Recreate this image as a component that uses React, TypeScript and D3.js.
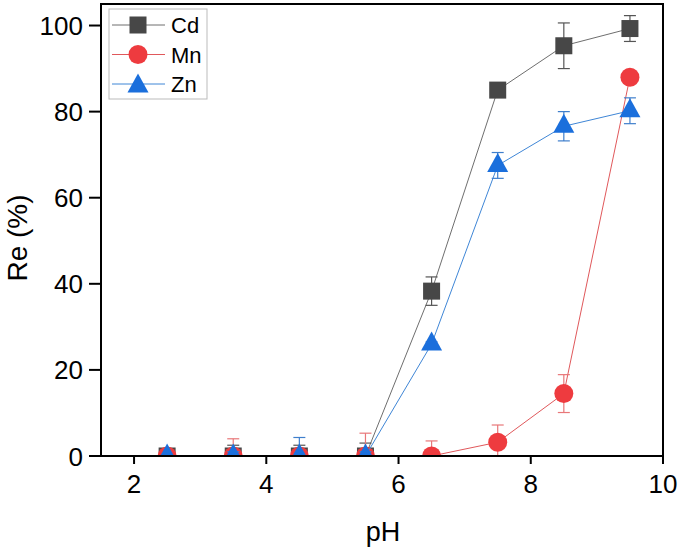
import React from "react";
import * as d3 from "d3";

const pH = [2.5, 3.5, 4.5, 5.5, 6.5, 7.5, 8.5, 9.5];
const cdValues = [0, 0, 0, 0, 38.3, 85, 95.3, 99.3];
const cdErrors = [0, 2.5, 2.5, 3, 3.3, 1, 5.3, 3];
const mnValues = [0, 0, 0, 0, 0, 3.2, 14.5, 88];
const mnErrors = [0, 4, 1.5, 5.3, 3.5, 4, 4.4, 0.5];
const znValues = [0, 0, 0, 0, 26, 67.5, 76.6, 80.2];
const znErrors = [0, 1, 4.3, 1, 0.5, 3, 3.4, 3];
const xTicks = [2, 4, 6, 8, 10];
const yTicks = [0, 20, 40, 60, 80, 100];
const seriesNames = ["Cd", "Mn", "Zn"];

const W = 685, H = 555;
const L = 101, R = 663, T = 4, B = 456;
const FONT = "'Liberation Sans', Arial, sans-serif";

const x = d3.scaleLinear().domain([1.5, 10]).range([L, R]);
const y = d3.scaleLinear().domain([0, 105]).range([B, T]);

type S = { name: string; vals: number[]; errs: number[]; fill: string; line: string; err: string; shape: string };
const series: S[] = [
  { name: seriesNames[0], vals: cdValues, errs: cdErrors, fill: "#474747", line: "#6e6e6e", err: "#555555", shape: "square" },
  { name: seriesNames[1], vals: mnValues, errs: mnErrors, fill: "#ee3b3f", line: "#e0585b", err: "#e87779", shape: "circle" },
  { name: seriesNames[2], vals: znValues, errs: znErrors, fill: "#1b6fdc", line: "#3f86d6", err: "#3f7fcc", shape: "triangle" },
];

function Marker({ shape, cx, cy, fill }: { shape: string; cx: number; cy: number; fill: string }) {
  if (shape === "square") return <rect x={cx - 8.5} y={cy - 8.5} width={17} height={17} fill={fill} />;
  if (shape === "circle") return <circle cx={cx} cy={cy} r={9.5} fill={fill} />;
  return <path d={`M${cx},${cy - 12.5}L${cx + 10.5},${cy + 6.5}L${cx - 10.5},${cy + 6.5}Z`} fill={fill} />;
}

export default function App() {
  const line = d3.line<number>().x((_, i) => x(pH[i])).y((d) => y(d));
  return (
    <svg width={W} height={H} style={{ position: "absolute", left: 0, top: 0, background: "#fff" }}>
      <defs>
        <clipPath id="plot">
          <rect x={L} y={T} width={R - L} height={B - T} />
        </clipPath>
      </defs>
      <rect width={W} height={H} fill="#fff" />
      <g clipPath="url(#plot)">
        {series.map((s) => (
          <g key={s.name}>
            <path d={line(s.vals) || ""} fill="none" stroke={s.line} strokeWidth={1} />
            {s.vals.map((v, i) =>
              s.errs[i] > 0 ? (
                <g key={i} stroke={s.err} strokeWidth={1.2}>
                  <line x1={x(pH[i])} x2={x(pH[i])} y1={y(v + s.errs[i])} y2={y(v - s.errs[i])} />
                  <line x1={x(pH[i]) - 6} x2={x(pH[i]) + 6} y1={y(v + s.errs[i])} y2={y(v + s.errs[i])} />
                  <line x1={x(pH[i]) - 6} x2={x(pH[i]) + 6} y1={y(v - s.errs[i])} y2={y(v - s.errs[i])} />
                </g>
              ) : null
            )}
            {s.vals.map((v, i) => (
              <Marker key={i} shape={s.shape} cx={x(pH[i])} cy={y(v)} fill={s.fill} />
            ))}
          </g>
        ))}
      </g>
      <rect x={L} y={T} width={R - L} height={B - T} fill="none" stroke="#000" strokeWidth={2} />
      {xTicks.map((t) => (
        <g key={t}>
          <line x1={x(t)} x2={x(t)} y1={B} y2={B + 8} stroke="#000" strokeWidth={2} />
          <text x={x(t)} y={B + 37} textAnchor="middle" fontFamily={FONT} fontSize={26}>{t}</text>
        </g>
      ))}
      {yTicks.map((t) => (
        <g key={t}>
          <line x1={L - 12} x2={L} y1={y(t)} y2={y(t)} stroke="#000" strokeWidth={2} />
          <text x={L - 18} y={y(t) + 9.5} textAnchor="end" fontFamily={FONT} fontSize={26}>{t}</text>
        </g>
      ))}
      <text x={383} y={541} textAnchor="middle" fontFamily={FONT} fontSize={27}>pH</text>
      <text transform={`translate(27,238) rotate(-90)`} textAnchor="middle" fontFamily={FONT} fontSize={28}>Re (%)</text>
      <g>
        <rect x={109} y={9} width={98} height={90} fill="#fff" stroke="#bbb" strokeWidth={1} />
        {series.map((s, i) => {
          const ly = 25 + i * 29.5;
          return (
            <g key={s.name}>
              <line x1={112} x2={165} y1={ly} y2={ly} stroke={s.line} strokeWidth={1} />
              <Marker shape={s.shape} cx={138} cy={ly + (s.shape === "triangle" ? 2 : 0)} fill={s.fill} />
              <text x={171} y={ly + 8} fontFamily={FONT} fontSize={22}>{s.name}</text>
            </g>
          );
        })}
      </g>
    </svg>
  );
}
